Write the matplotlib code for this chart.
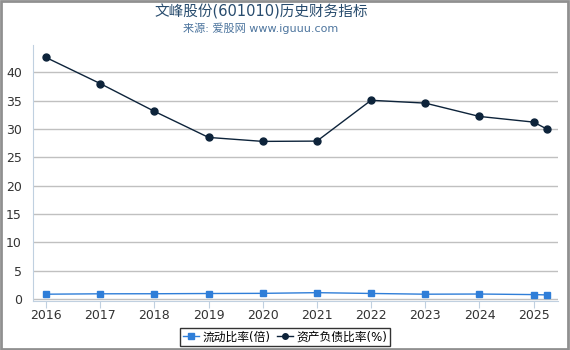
import numpy as np
import matplotlib.pyplot as plt
from matplotlib.patches import Rectangle

plt.rcParams['font.family'] = ['DejaVu Sans', 'Noto Sans CJK SC']

years = [2016, 2017, 2018, 2019, 2020, 2021, 2022, 2023, 2024, 2025, 2025.25]
year_ticks = [2016, 2017, 2018, 2019, 2020, 2021, 2022, 2023, 2024, 2025]
current_ratio = [0.85, 0.92, 0.93, 0.97, 1.0, 1.12, 0.98, 0.85, 0.88, 0.78, 0.72]
debt_ratio = [42.6, 38.0, 33.1, 28.5, 27.8, 27.85, 35.05, 34.55, 32.2, 31.2, 29.95]

title = "文峰股份(601010)历史财务指标"
subtitle = "来源: 爱股网 www.iguuu.com"
label_cr = "流动比率(倍)"
label_dr = "资产负债比率(%)"

fig = plt.figure(figsize=(5.7, 3.5), dpi=100)
ax = fig.add_axes([33/570, 1 - 301/350, (558-33)/570, (301-45)/350])

ax.plot(years, current_ratio, color="#2f7ed8", lw=1, marker="s", ms=5,
        label=label_cr, zorder=3)
ax.plot(years, debt_ratio, color="#0d233a", lw=1, marker="o", ms=5,
        label=label_dr, zorder=3)

ax.set_xlim(2015.76, 2025.45)
ax.set_ylim(-0.35, 44.8)
ax.set_xticks(year_ticks)
ax.set_yticks(np.arange(0, 45, 5))
ax.grid(axis="y", color="#c0c0c0", lw=1)
ax.set_axisbelow(True)
for s in ["top", "right"]:
    ax.spines[s].set_visible(False)
ax.spines["left"].set_color("#c0d0e0")
ax.spines["bottom"].set_color("#c0d0e0")
ax.tick_params(axis="y", length=0, labelsize=9, colors="#333333", pad=8)
ax.tick_params(axis="x", length=5, color="#c0d0e0", labelsize=9, colors="#333333", pad=1)

fig.text(0.458, 0.965, title, ha="center", va="center", fontsize=10.5, color="#274b6d")
fig.text(0.458, 0.918, subtitle, ha="center", va="center", fontsize=8, color="#4d759e")

leg = fig.legend(loc="center", bbox_to_anchor=(0.5, 1 - 337/350),
                 ncol=2, fontsize=8.5, frameon=True, handlelength=1.4,
                 handletextpad=0.3, columnspacing=0.5, borderpad=0.25,
                 markerscale=0.8, fancybox=False)
leg.get_frame().set_edgecolor("black")
leg.get_frame().set_linewidth(1)

fig.patches.append(Rectangle((0.002, 0.003), 0.994, 0.994, transform=fig.transFigure,
                             fill=False, edgecolor="#909090", lw=2))

fig.savefig("out.png", dpi=100)
